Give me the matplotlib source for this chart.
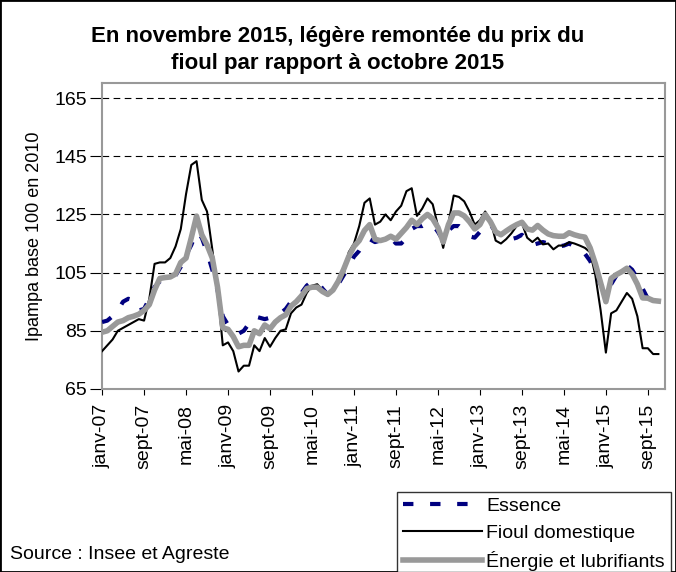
import matplotlib
matplotlib.use("Agg")
import matplotlib.pyplot as plt
from matplotlib.patches import Rectangle

plt.rcParams["font.family"] = ["Liberation Sans", "DejaVu Sans"]

# monthly indices, janv-07 .. nov-15 (107 months)
essence = [
    88, 88.5, 90, 92, 95, 96, 95.5, 92, 92.5, 96, 100, 102,
    102.5, 102.5, 104, 107, 111, 114.5, 119, 117, 112, 106, 99, 90,
    87, 85, 84, 85, 87.5, 90, 89.5, 89, 89.5, 90.5, 91, 92.5,
    95, 96, 98, 100.5, 102, 102, 99.5, 97.5, 99.5, 101, 104, 107,
    110.5, 112.5, 115.5, 116.5, 115.5, 116, 117, 117, 115, 115, 117, 120,
    121, 121, 122, 121.5, 119, 116, 119.5, 121, 121, 119.5, 117.5, 117,
    119, 121.5, 121.5, 119, 117.5, 117, 116.5, 117, 118, 116, 114.5, 115,
    115.5, 115, 114.5, 114, 114.3, 115, 114, 113, 111.5, 109, 105, 101,
    98, 101, 104, 106, 107.5, 106, 103, 99.5, 96, 95, 95,
]
fioul = [
    78, 80, 82, 85, 86, 87, 88, 89, 88.5, 96, 108, 108.5,
    108.5, 110, 114, 120, 132, 142, 143.3, 130, 126, 113, 99, 80,
    81, 78, 71, 73, 73, 80, 78, 82.5, 79.5, 82.5, 85, 85.5,
    91, 93, 94, 98, 100.5, 101, 99, 97.5, 99, 102, 104, 112,
    115, 121, 129, 130.5, 121.5, 122.5, 125, 123, 126, 128, 133, 134,
    124.5, 127, 130.5, 128.5, 121, 113.5, 122, 131.5, 131, 129.5, 126, 121.5,
    123, 126, 123, 116, 115, 116.5, 118.5, 121, 122, 117, 115.5, 117,
    114.7, 115, 113, 114.3, 114.3, 115.5, 115, 114.3, 113.5, 112, 104, 92,
    77.5, 91, 92, 95, 98, 96, 90, 79, 79, 77, 77,
]
energie = [
    84.5, 85, 86.5, 88, 88.5, 89.5, 90, 90.7, 92, 94, 99, 103,
    103.3, 103.5, 104.5, 108.5, 110, 117, 124.4, 118, 114.5, 110, 100, 86,
    85.5, 83, 79.5, 80, 80, 85, 84, 87, 85.7, 88, 89.5, 90.5,
    93.5, 95, 97, 99.5, 100, 100, 98.5, 97.5, 99, 102, 106, 110.5,
    114, 116, 119.5, 121.5, 116.5, 116, 116.5, 117.5, 116.5, 118.5, 120.5, 123,
    121.5, 123.5, 125, 123.5, 120.5, 115.5, 121.5, 125.5, 125.5, 124.5, 122.5, 120,
    121.5, 125, 122.5, 119, 118, 119.3, 120.5, 121.5, 122.3, 120, 119.6, 121.2,
    119.6, 118.3, 117.7, 117.5, 117.5, 118.7, 118, 117.5, 117.2, 113.5, 108, 101.5,
    95, 103, 104.3, 105.3, 106.5, 104.5, 101, 96.3, 96.2, 95.4, 95.2,
]
tick_labels = ["janv-07", "sept-07", "mai-08", "janv-09", "sept-09", "mai-10",
               "janv-11", "sept-11", "mai-12", "janv-13", "sept-13", "mai-14",
               "janv-15", "sept-15"]

x = list(range(len(energie)))

fig = plt.figure(figsize=(6.76, 5.72), dpi=100)
ax = fig.add_axes([0.151, 0.320, 0.833, 0.535])

ax.plot(x, essence, color="#000080", lw=3, ls=(0, (2.5, 4)), label="Essence", zorder=3)
ax.plot(x, fioul, color="black", lw=1.5, label="Fioul domestique", zorder=4)
ax.plot(x, energie, color="#999999", lw=4, label="Énergie et lubrifiants", zorder=5)

ax.set_xlim(0, 107.3)
ax.set_ylim(65, 170.2)
ax.set_yticks(range(65, 166, 20))
ax.set_xticks(range(0, 105, 8))
ax.set_xticklabels(tick_labels, rotation=90)
ax.tick_params(axis="both", labelsize=14, color="black")
ax.tick_params(axis="y", length=9, pad=2)
ax.tick_params(axis="x", length=4, pad=7)
ax.yaxis.grid(True, color="black", ls=(0, (6, 4)), lw=0.8)
ax.set_axisbelow(True)
for s in ax.spines.values():
    s.set_color("#999999")
    s.set_linewidth(1.5)

ax.set_ylabel("Ipampa base 100 en 2010", fontsize=13, labelpad=8)
fig.suptitle("En novembre 2015, légère remontée du prix du\nfioul par rapport à octobre 2015",
             fontsize=16, fontweight="bold", y=0.955, va="top", linespacing=1.4)

fig.text(0.015, 0.022, "Source : Insee et Agreste", fontsize=14)

leg = fig.legend(loc="upper left", bbox_to_anchor=(396.7 / 676, 1 - 491.7 / 572), fontsize=14,
                 frameon=True, fancybox=False, edgecolor="black", handlelength=4.1,
                 handletextpad=0.2, borderpad=0.3, labelspacing=0.47, borderaxespad=0)
leg.get_frame().set_linewidth(1.0)

fig.add_artist(Rectangle((0, 0), 1, 1, transform=fig.transFigure, fill=False,
                         edgecolor="black", lw=2))

fig.savefig("out.png", dpi=100)
